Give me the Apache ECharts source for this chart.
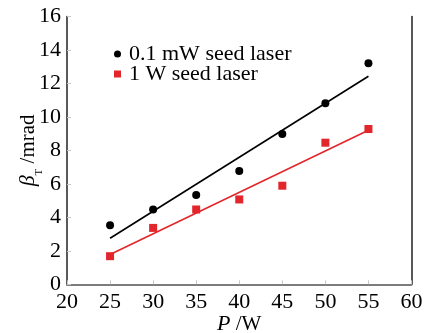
<!DOCTYPE html>
<html>
<head>
<meta charset="utf-8">
<script src="https://cdn.jsdelivr.net/npm/echarts@6/dist/echarts.min.js"></script>
<style>
  html, body { margin: 0; padding: 0; background: #fff; }
  #chart { width: 437px; height: 333px; }
</style>
</head>
<body>
<div id="chart"></div>
<script>
// Pump power (W)
const powers = [25, 30, 35, 40, 45, 50, 55];
// Thermal beam drift (mrad) with the two seed powers
const lowSeed = [3.53, 4.47, 5.33, 6.77, 8.98, 10.82, 13.2];
const highSeed = [1.68, 3.37, 4.47, 5.07, 5.89, 8.46, 9.28];
// Linear fit end points [P, beta]
const lowFit = [[25, 2.75], [55, 12.43]];
const highFit = [[25, 1.78], [55, 9.2]];
const seriesNames = ['0.1 mW seed laser', '1 W seed laser'];
const xTicks = { min: 20, max: 60, interval: 5 };
const yTicks = { min: 0, max: 16, interval: 2 };

const serif = 'Liberation Serif';
const red = '#e3262b';

const chart = echarts.init(document.getElementById('chart'), null, { renderer: 'canvas' });

const tickStyle = { show: true, inside: true, length: 4, lineStyle: { color: '#c8c8c8', width: 1 } };

chart.setOption({
  animation: false,
  backgroundColor: '#fff',
  grid: { left: 67, right: 25.5, top: 16.5, bottom: 48.7, containLabel: false, outerBoundsMode: 'none' },
  legend: {
    data: [
      { name: seriesNames[0], icon: 'circle', itemStyle: { color: '#000' } },
      { name: seriesNames[1], icon: 'rect', itemStyle: { color: red } }
    ],
    orient: 'vertical',
    left: 109,
    top: 38,
    itemWidth: 7,
    itemHeight: 7,
    itemGap: -2,
    textStyle: { fontFamily: serif, fontSize: 22, lineHeight: 20, color: '#000', padding: [0, 0, 0, 3] }
  },
  xAxis: [
    {
      type: 'value', min: xTicks.min, max: xTicks.max, interval: xTicks.interval,
      axisLine: { show: true, lineStyle: { color: '#222', width: 1.5 } },
      axisTick: tickStyle,
      splitLine: { show: false },
      axisLabel: { fontFamily: serif, fontSize: 22, color: '#000', margin: 7 },
      name: '{i|P} /W',
      nameLocation: 'middle',
      nameGap: 29,
      nameMoveOverlap: false,
      nameTextStyle: {
        fontFamily: serif, fontSize: 21, color: '#000',
        rich: { i: { fontFamily: serif, fontStyle: 'italic', fontSize: 22, color: '#000' } }
      }
    },
    {
      type: 'value', position: 'top', min: xTicks.min, max: xTicks.max, interval: xTicks.interval,
      axisLine: { show: true, lineStyle: { color: '#888', width: 1.5 } },
      axisTick: { show: false }, axisLabel: { show: false }, splitLine: { show: false }
    }
  ],
  yAxis: [
    {
      type: 'value', min: yTicks.min, max: yTicks.max, interval: yTicks.interval,
      axisLine: { show: true, lineStyle: { color: '#222', width: 1.5 } },
      axisTick: tickStyle,
      splitLine: { show: false },
      axisLabel: { fontFamily: serif, fontSize: 22, color: '#000', margin: 6 },
      name: '{b|β}{s|T} /mrad',
      nameLocation: 'middle',
      nameGap: 28,
      nameRotate: 90,
      nameMoveOverlap: false,
      nameTextStyle: {
        fontFamily: serif, fontSize: 21, color: '#000',
        rich: {
          b: { fontFamily: serif, fontStyle: 'italic', fontSize: 22, color: '#000' },
          s: { fontFamily: serif, fontSize: 11, color: '#000', verticalAlign: 'bottom', padding: [0, 0, -6, 0] }
        }
      }
    },
    {
      type: 'value', position: 'right', min: yTicks.min, max: yTicks.max, interval: yTicks.interval,
      axisLine: { show: true, lineStyle: { color: '#222', width: 1.5 } },
      axisTick: { show: false }, axisLabel: { show: false }, splitLine: { show: false }
    }
  ],
  series: [
    {
      name: seriesNames[0], type: 'scatter', symbol: 'circle', symbolSize: 8,
      itemStyle: { color: '#000', opacity: 1 },
      data: powers.map((p, i) => [p, lowSeed[i]]), z: 5
    },
    {
      name: seriesNames[1], type: 'scatter', symbol: 'rect', symbolSize: 8,
      itemStyle: { color: red, opacity: 1 },
      data: powers.map((p, i) => [p, highSeed[i]]), z: 5
    },
    {
      name: 'fit-low', type: 'line', symbol: 'none', silent: true,
      lineStyle: { color: '#000', width: 1.6 }, data: lowFit
    },
    {
      name: 'fit-high', type: 'line', symbol: 'none', silent: true,
      lineStyle: { color: red, width: 1.6 }, data: highFit
    }
  ]
});
</script>
</body>
</html>
